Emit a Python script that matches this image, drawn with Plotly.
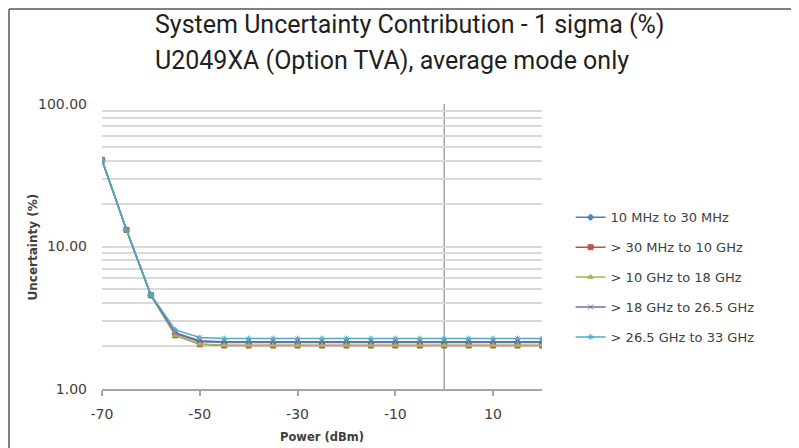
import plotly.graph_objects as go

power = [-70, -65, -60, -55, -50, -45, -40, -35, -30, -25, -20, -15, -10, -5, 0, 5, 10, 15, 20]

series_names = ["10 MHz to 30 MHz", "> 30 MHz to 10 GHz", "> 10 GHz to 18 GHz",
                "> 18 GHz to 26.5 GHz", "> 26.5 GHz to 33 GHz"]

u_10mhz_30mhz = [40.5, 13.1, 4.55, 2.45, 2.15] + [2.12] * 14
u_30mhz_10ghz = [40.5, 13.1, 4.55, 2.38, 2.06] + [2.02] * 14
u_10ghz_18ghz = [40.5, 13.1, 4.55, 2.38, 2.07] + [2.03] * 14
u_18ghz_26ghz = [40.5, 13.1, 4.55, 2.48, 2.18] + [2.15] * 14
u_26ghz_33ghz = [40.5, 13.1, 4.6, 2.6, 2.3] + [2.26] * 14

series_values = [u_10mhz_30mhz, u_30mhz_10ghz, u_10ghz_18ghz, u_18ghz_26ghz, u_26ghz_33ghz]
colors = ["#4F81BD", "#C0504D", "#9BBB59", "#8064A2", "#4BACC6"]
symbols = ["diamond", "square", "triangle-up", "x-thin", "asterisk"]

y_tickvals = [1, 10, 100]
y_ticktext = ["1.00", "10.00", "100.00"]
x_tickvals = [-70, -50, -30, -10, 10]
x_ticktext = ["-70", "-50", "-30", "-10", "10"]
y_minor = [2, 3, 4, 5, 6, 7, 8, 9, 20, 30, 40, 50, 60, 70, 80, 90]

fig = go.Figure()
for i, (name, vals) in enumerate(zip(series_names, series_values)):
    fig.add_trace(go.Scatter(
        x=power, y=vals, name=name, mode="lines+markers",
        legendgroup=str(i),
        line=dict(color=colors[i], width=1.5),
        marker=dict(symbol=symbols[i], size=5, color=colors[i],
                    line=dict(color=colors[i], width=1)),
    ))

font_main = "DejaVu Sans"
# page body keeps its default 8px margin, so the figure is 8px smaller and shifted
fig.update_layout(
    width=791, height=440,
    margin=dict(l=94, r=257, t=96, b=59, autoexpand=False),
    paper_bgcolor="white", plot_bgcolor="white",
    showlegend=True,
    legend=dict(x=1.065, y=0.655, xanchor="left", yanchor="top",
                font=dict(family=font_main, size=13, color="#404040"),
                tracegroupgap=10, itemwidth=30, bgcolor="rgba(0,0,0,0)"),
    xaxis=dict(range=[-70, 20], tickvals=x_tickvals, ticktext=x_ticktext, showgrid=False,
               zeroline=False, showline=True, linecolor="#a6a6a6", linewidth=1.5,
               ticks="outside", ticklen=5, tickcolor="#a6a6a6", tickwidth=1.5,
               ticklabelstandoff=6, automargin=False,
               tickfont=dict(family=font_main, size=14, color="#404040")),
    yaxis=dict(type="log", range=[0, 2], tickvals=y_tickvals, ticktext=y_ticktext,
               showgrid=True, gridcolor="#d9d9d9", gridwidth=1.5,
               zeroline=False, showline=False, ticks="", ticklabelstandoff=14,
               automargin=False,
               minor=dict(tickvals=y_minor, showgrid=True, gridcolor="#d9d9d9",
                          gridwidth=1.5, ticks=""),
               tickfont=dict(family=font_main, size=14, color="#404040")),
    font=dict(family=font_main, color="#404040"),
)

# axis titles
fig.add_annotation(text="<b>Power (dBm)</b>", xref="paper", yref="paper",
                   x=0.5, y=-0.167, xanchor="center", yanchor="middle", showarrow=False,
                   font=dict(family=font_main, size=11.5, color="#404040"))
fig.add_annotation(text="<b>Uncertainty (%)</b>", xref="paper", yref="paper",
                   x=-0.157, y=0.5, xanchor="center", yanchor="middle", showarrow=False,
                   textangle=-90, font=dict(family=font_main, size=12, color="#404040"))

# vertical axis crossing at 0 dBm
fig.add_shape(type="line", xref="x", yref="paper", x0=0, x1=0, y0=0, y1=1,
              line=dict(color="#a6a6a6", width=1.5), layer="below")

# outer frame (top and left edges)
fig.add_shape(type="line", xref="paper", yref="paper", x0=-0.2114, x1=1.6,
              y0=1.333, y1=1.333, line=dict(color="#808080", width=2))
fig.add_shape(type="line", xref="paper", yref="paper", x0=-0.2114, x1=-0.2114,
              y0=1.333, y1=-0.3, line=dict(color="#808080", width=2))

fig.add_annotation(text="System Uncertainty Contribution - 1 sigma (%)",
                   xref="paper", yref="paper", x=0.116, y=1.28,
                   xanchor="left", yanchor="middle", showarrow=False,
                   font=dict(family="Roboto", size=25, color="#231f20"))
fig.add_annotation(text="U2049XA (Option TVA), average mode only",
                   xref="paper", yref="paper", x=0.116, y=1.154,
                   xanchor="left", yanchor="middle", showarrow=False,
                   font=dict(family="Roboto", size=25, color="#231f20"))

fig.write_html("out.html", config={"displayModeBar": False})
